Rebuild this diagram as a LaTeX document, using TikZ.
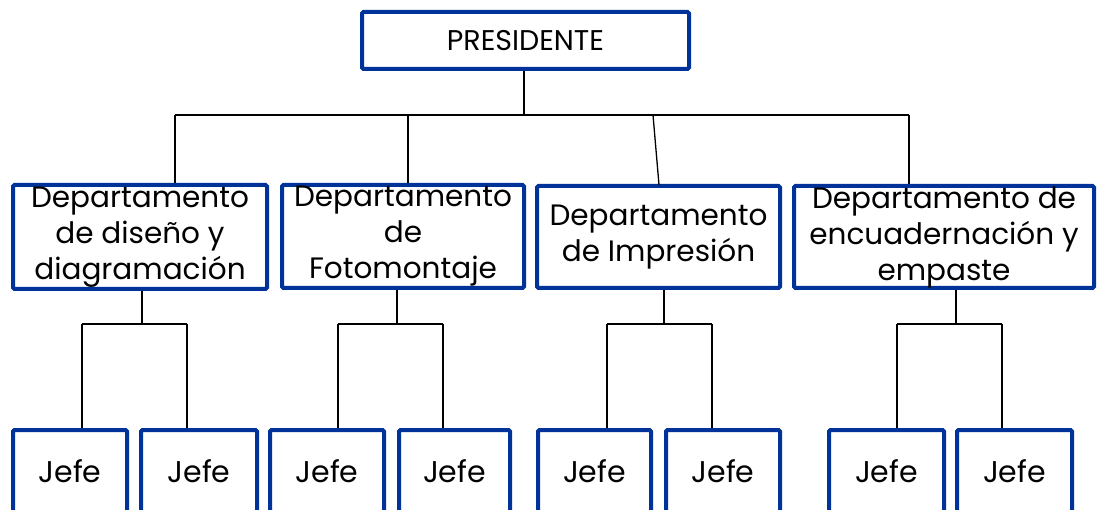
\documentclass[tikz,border=0pt]{standalone}
\usepackage{fontspec}
\setmainfont{Poppins}
\definecolor{bblue}{RGB}{0,51,153}
\tikzset{
  orgbox/.style={draw=bblue, line width=4pt, rounded corners=1.5pt, fill=white,
    inner sep=0pt, align=center, text=black},
  deptbox/.style={orgbox, font=\fontsize{29.5}{36}\selectfont},
  jefebox/.style={orgbox, minimum height=82pt, font=\fontsize{30}{36}\selectfont},
  link/.style={draw=black, line width=1.3pt}
}
\begin{document}
\begin{tikzpicture}[x=1pt,y=-1pt]
\useasboundingbox (0,0) rectangle (1099,510);
\clip (0,0) rectangle (1099,510);
% president
\node[orgbox, minimum width=327pt, minimum height=57pt, font=\fontsize{28.5}{32}\selectfont] (p) at (525.5,40.5) {PRESIDENTE};
% departments
\node[deptbox, minimum width=254pt, minimum height=104pt] (d1) at (140,237) {Departamento\\de diseño y\\diagramación};
\node[deptbox, minimum width=242pt, minimum height=103pt] (d2) at (403,236.5) {Departamento\\de\\Fotomontaje};
\node[deptbox, minimum width=243pt, minimum height=102pt] (d3) at (658.5,237) {Departamento\\de Impresión};
\node[deptbox, minimum width=300pt, minimum height=102pt] (d4) at (944,237) {Departamento de\\encuadernación y\\empaste};
% jefes
\node[jefebox, minimum width=114pt] (j1a) at (70,471) {Jefe};
\node[jefebox, minimum width=116pt] (j1b) at (199,471) {Jefe};
\node[jefebox, minimum width=114pt] (j2a) at (327,471) {Jefe};
\node[jefebox, minimum width=111pt] (j2b) at (454.5,471) {Jefe};
\node[jefebox, minimum width=113pt] (j3a) at (594.5,471) {Jefe};
\node[jefebox, minimum width=114pt] (j3b) at (723,471) {Jefe};
\node[jefebox, minimum width=115pt] (j4a) at (886.5,471) {Jefe};
\node[jefebox, minimum width=115pt] (j4b) at (1014.5,471) {Jefe};
% top level bus
\coordinate (hl) at (175,115);
\coordinate (hr) at (909,115);
\coordinate (h2) at (408,115);
\coordinate (h3) at (653,115);
\coordinate (t3) at (659,185);
\draw[link] (p.south -| 524,0) -- (524,115);
\draw[link] (hl) -- (hr);
\draw[link] (hl) -- (hl |- d1.north);
\draw[link] (h2) -- (h2 |- d2.north);
\draw[link] (h3) -- (t3);
\draw[link] (hr) -- (hr |- d4.north);
% department 1
\coordinate (b1) at (142,324);
\coordinate (b1l) at (82,324);
\coordinate (b1r) at (187,324);
\draw[link] (b1 |- d1.south) -- (b1);
\draw[link] (b1l) -- (b1r);
\draw[link] (b1l) -- (b1l |- j1a.north);
\draw[link] (b1r) -- (b1r |- j1b.north);
% department 2
\coordinate (b2) at (397,324);
\coordinate (b2l) at (338,324);
\coordinate (b2r) at (443,324);
\draw[link] (b2 |- d2.south) -- (b2);
\draw[link] (b2l) -- (b2r);
\draw[link] (b2l) -- (b2l |- j2a.north);
\draw[link] (b2r) -- (b2r |- j2b.north);
% department 3
\coordinate (b3) at (664,324);
\coordinate (b3l) at (607,324);
\coordinate (b3r) at (712,324);
\draw[link] (b3 |- d3.south) -- (b3);
\draw[link] (b3l) -- (b3r);
\draw[link] (b3l) -- (b3l |- j3a.north);
\draw[link] (b3r) -- (b3r |- j3b.north);
% department 4
\coordinate (b4) at (956,324);
\coordinate (b4l) at (897,324);
\coordinate (b4r) at (1002,324);
\draw[link] (b4 |- d4.south) -- (b4);
\draw[link] (b4l) -- (b4r);
\draw[link] (b4l) -- (b4l |- j4a.north);
\draw[link] (b4r) -- (b4r |- j4b.north);
\end{tikzpicture}
\end{document}
